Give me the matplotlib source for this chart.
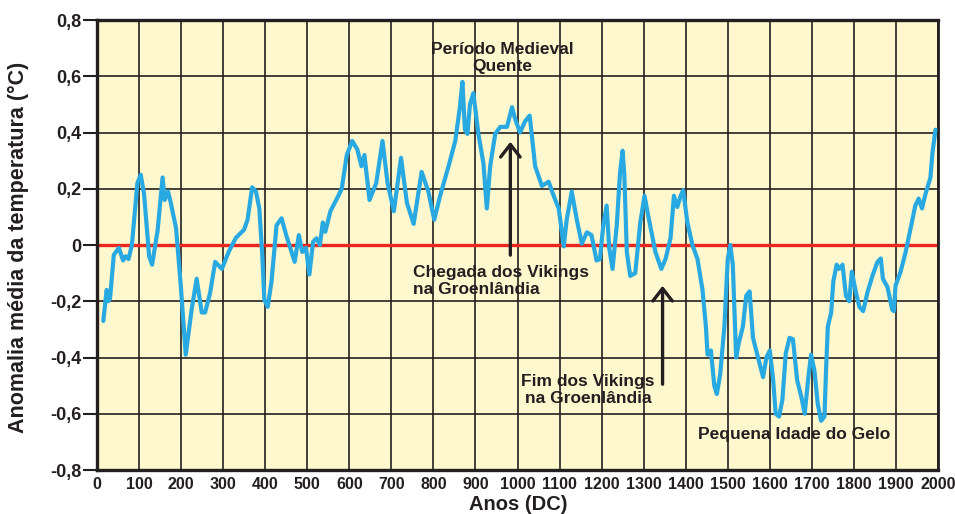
import matplotlib
matplotlib.use("Agg")
import matplotlib.pyplot as plt

plt.rcParams['font.family'] = ['Liberation Sans', 'DejaVu Sans']

years = [15, 23, 27, 31, 40, 52, 62, 68, 75, 83, 96, 104, 112, 124, 131, 144, 156, 161, 169, 174,
         188, 199, 211, 225, 237, 249, 257, 269, 281, 297, 313, 330, 350, 358, 369, 378, 386, 393,
         398, 406, 415, 427, 439, 450, 470, 480, 488, 497, 505, 514, 522, 530, 537, 543, 555, 574,
         582, 594, 607, 619, 629, 636, 648, 664, 679, 691, 706, 723, 737, 753, 772, 788, 802, 816,
         836, 852, 863, 869, 875, 881, 887, 895, 907, 919, 927, 935, 947, 959, 975, 987, 994, 1006,
         1018, 1029, 1042, 1058, 1074, 1086, 1098, 1110, 1117, 1129, 1141, 1153, 1165, 1176, 1188,
         1196, 1204, 1212, 1218, 1226, 1236, 1244, 1250, 1254, 1260, 1268, 1280, 1292, 1302, 1312,
         1328, 1342, 1352, 1364, 1372, 1380, 1388, 1394, 1404, 1416, 1428, 1440, 1448, 1452, 1460,
         1468, 1474, 1482, 1492, 1500, 1506, 1512, 1520, 1526, 1536, 1544, 1552, 1560, 1572, 1584,
         1592, 1600, 1608, 1614, 1622, 1630, 1638, 1647, 1655, 1665, 1675, 1683, 1691, 1698, 1706,
         1714, 1722, 1730, 1734, 1738, 1746, 1751, 1759, 1765, 1773, 1781, 1789, 1795, 1805, 1813,
         1822, 1832, 1844, 1856, 1864, 1869, 1880, 1891, 1895, 1899, 1911, 1923, 1935, 1946, 1954,
         1962, 1970, 1982, 1987, 1994]
anomaly = [-0.27, -0.16, -0.20, -0.19, -0.035, -0.01, -0.055, -0.04, -0.05, 0.0, 0.22, 0.25, 0.18,
           -0.04, -0.07, 0.05, 0.24, 0.16, 0.19, 0.16, 0.06, -0.14, -0.39, -0.23, -0.12, -0.24, -0.24,
           -0.17, -0.06, -0.085, -0.025, 0.025, 0.055, 0.09, 0.205, 0.19, 0.13, -0.035, -0.195, -0.22,
           -0.13, 0.07, 0.095, 0.035, -0.06, 0.035, -0.025, -0.01, -0.105, 0.012, 0.024, 0.0, 0.08,
           0.047, 0.12, 0.175, 0.2, 0.32, 0.37, 0.34, 0.28, 0.32, 0.16, 0.22, 0.37, 0.22, 0.12, 0.31,
           0.15, 0.075, 0.26, 0.19, 0.09, 0.175, 0.28, 0.37, 0.49, 0.58, 0.41, 0.395, 0.5, 0.54, 0.395,
           0.29, 0.13, 0.28, 0.395, 0.42, 0.42, 0.49, 0.45, 0.4, 0.44, 0.46, 0.28, 0.21, 0.225, 0.175,
           0.13, -0.005, 0.09, 0.19, 0.09, 0.005, 0.045, 0.035, -0.055, -0.05, 0.07, 0.14, -0.01,
           -0.085, 0.07, 0.26, 0.335, 0.25, -0.025, -0.11, -0.10, 0.08, 0.175, 0.095, -0.025, -0.085,
           -0.05, 0.025, 0.175, 0.135, 0.175, 0.195, 0.08, 0.0, -0.05, -0.16, -0.29, -0.39, -0.375,
           -0.50, -0.53, -0.46, -0.29, -0.05, 0.0, -0.07, -0.40, -0.35, -0.29, -0.18, -0.165, -0.33,
           -0.40, -0.47, -0.40, -0.375, -0.48, -0.60, -0.61, -0.55, -0.385, -0.33, -0.335, -0.48,
           -0.54, -0.60, -0.48, -0.39, -0.445, -0.565, -0.625, -0.61, -0.435, -0.29, -0.24, -0.13,
           -0.07, -0.085, -0.07, -0.18, -0.20, -0.095, -0.17, -0.22, -0.235, -0.17, -0.11, -0.06,
           -0.048, -0.12, -0.15, -0.23, -0.235, -0.145, -0.095, -0.025, 0.06, 0.14, 0.165, 0.13,
           0.18, 0.24, 0.33, 0.41]

x_ticks = list(range(0, 2001, 100))
x_tick_labels = [str(v) for v in x_ticks]
y_ticks = [-0.8, -0.6, -0.4, -0.2, 0.0, 0.2, 0.4, 0.6, 0.8]
y_tick_labels = ['-0,8', '-0,6', '-0,4', '-0,2', '0', '0,2', '0,4', '0,6', '0,8']

W, H = 955, 514
fig = plt.figure(figsize=(W / 100, H / 100), dpi=100)
fig.patch.set_facecolor('white')
ax = fig.add_axes([97 / W, 1 - 470 / H, 841 / W, 450 / H])
ax.set_facecolor('#FFF8CF')

dark = '#231F20'
ax.set_xlim(0, 2000)
ax.set_ylim(-0.8, 0.8)
ax.set_xticks(x_ticks)
ax.set_xticklabels(x_tick_labels, fontsize=11.5, fontweight='bold', color=dark)
ax.set_yticks(y_ticks)
ax.set_yticklabels(y_tick_labels, fontsize=13, fontweight='bold', color=dark)
ax.tick_params(axis='x', length=0, pad=5)
ax.tick_params(axis='y', length=10, width=1.5, color=dark, pad=1)
ax.grid(True, color=dark, lw=1.2, zorder=1)
ax.set_axisbelow(True)
for side in ['left', 'bottom', 'top']:
    ax.spines[side].set_linewidth(2.4)
    ax.spines[side].set_color(dark)
ax.spines['right'].set_linewidth(2.0)
ax.spines['right'].set_color(dark)

ax.axhline(0, color='#E8281E', lw=2.4, zorder=2)
ax.plot(years, anomaly, color='#29A9E1', lw=3.0, solid_joinstyle='round',
        solid_capstyle='round', zorder=3)

tkw = dict(fontsize=12.5, fontweight='bold', color=dark, zorder=5, linespacing=1.2)
ax.text(963, 0.664, 'Período Medieval\nQuente', ha='center', va='center', **tkw)
ax.text(751, -0.127, 'Chegada dos Vikings\nna Groenlândia', ha='left', va='center', **tkw)
ax.text(1168, -0.516, 'Fim dos Vikings\nna Groenlândia', ha='center', va='center', **tkw)
ax.text(1657, -0.675, 'Pequena Idade do Gelo', ha='center', va='center', **tkw)

akw = dict(arrowstyle='->,head_length=0.45,head_width=0.35', lw=2.4, color=dark,
           shrinkA=0, shrinkB=0, mutation_scale=20)
ax.annotate('', xy=(983, 0.367), xytext=(983, -0.036), arrowprops=akw, zorder=5)
ax.annotate('', xy=(1345, -0.145), xytext=(1345, -0.495), arrowprops=akw, zorder=5)

fig.text(18 / W, 1 - 247 / H, 'Anomalia média da temperatura (°C)', rotation=90,
         ha='center', va='center', fontsize=15.5, fontweight='bold', color=dark)
fig.text(518 / W, 1 - 504 / H, 'Anos (DC)', ha='center', va='center',
         fontsize=14.5, fontweight='bold', color=dark)

fig.savefig('out.png', dpi=100)
